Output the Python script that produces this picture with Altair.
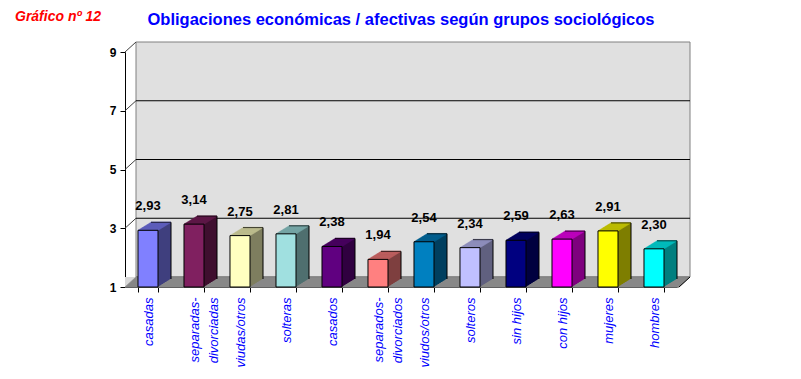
import altair as alt
import pandas as pd

# ---- data ----
categories = ["casadas", "separadas-|divorciadas", "viudas/otros", "solteras", "casados",
              "separados-|divorciados", "viudos/otros", "solteros", "sin hijos", "con hijos",
              "mujeres", "hombres"]
values = [2.93, 3.14, 2.75, 2.81, 2.38, 1.94, 2.54, 2.34, 2.59, 2.63, 2.91, 2.30]
front_colors = ["#8080FF", "#802060", "#FFFFC0", "#A0E0E0", "#600080", "#FF8080",
                "#0080C0", "#C0C0FF", "#000080", "#FF00FF", "#FFFF00", "#00FFFF"]
y_ticks = [1, 3, 5, 7, 9]
grid_values = [3, 5, 7]
connector_values = [3, 5, 7, 9]
chart_number = "Gráfico nº 12"
title_text = "Obligaciones económicas / afectivas según grupos sociológicos"


def shade(hex_color, f):
    h = hex_color.lstrip("#")
    r, g, b = (int(h[i:i + 2], 16) for i in (0, 2, 4))
    return "#%02X%02X%02X" % (int(r * f), int(g * f), int(b * f))


df = pd.DataFrame({
    "cat": categories,
    "val": values,
    "front": front_colors,
    "side": [shade(c, 0.5) for c in front_colors],
    "top": [shade(c, 0.75) for c in front_colors],
    "label": [f"{v:.2f}".replace(".", ",") for v in values],
})
grid_df = pd.DataFrame({"g": grid_values})
conn_df = pd.DataFrame({"g": connector_values})
one_df = pd.DataFrame({"g": [1]})

W, H = 552, 235
WALL_DX, WALL_DY = 11, -10
BAR_DX, BAR_DY = 13, -8
N = 13

yscale = alt.Scale(domain=[1, 9], zero=False, nice=False)
x_enc = alt.X("cat:N", sort=categories, title=None,
              scale=alt.Scale(paddingInner=0.565, paddingOuter=0.2825),
              axis=alt.Axis(labelExpr="split(datum.label, '|')"))
y_enc = alt.Y("val:Q", scale=yscale, title=None, axis=alt.Axis(values=y_ticks))
y2_base = alt.Y2Datum(1)

wall = alt.Chart(one_df).mark_rect(fill="#E0E0E0", stroke="#808080", strokeWidth=1,
                                   yOffset=WALL_DY, y2Offset=WALL_DY).encode(
    x=alt.value(WALL_DX), x2=alt.value(W + WALL_DX + 2),
    y=alt.YDatum(9, scale=yscale, title=None), y2=alt.Y2Datum(1))

grid = alt.Chart(grid_df).mark_rule(color="black", strokeWidth=1, yOffset=WALL_DY).encode(
    x=alt.value(WALL_DX), x2=alt.value(W + WALL_DX + 2),
    y=alt.Y("g:Q", scale=yscale, title=None))

conn = alt.Chart(conn_df).mark_rule(color="#404040", strokeWidth=1, y2Offset=WALL_DY).encode(
    x=alt.value(0), x2=alt.value(WALL_DX),
    y=alt.Y("g:Q", scale=yscale, title=None), y2=alt.Y2("g:Q"))

# light corner under the left side wall
corner = alt.Chart(one_df).mark_rect(fill="#D8D8D8", yOffset=WALL_DY).encode(
    x=alt.value(0), x2=alt.value(WALL_DX),
    y=alt.Y("g:Q", scale=yscale, title=None), y2=alt.Y2("g:Q"))

layers = [wall, grid, conn, corner]

# floor as a parallelogram built from slanted strips
for k in range(0, 11):
    sx = k * WALL_DX / 10
    layers.append(alt.Chart(one_df).mark_rule(color="#808080", strokeWidth=1.3, yOffset=-k).encode(
        x=alt.value(sx), x2=alt.value(W + 2 + sx),
        y=alt.Y("g:Q", scale=yscale, title=None)))
layers.append(alt.Chart(one_df).mark_rule(color="black", strokeWidth=1, y2Offset=WALL_DY).encode(
    x=alt.value(W + 2), x2=alt.value(W + 2 + WALL_DX),
    y=alt.Y("g:Q", scale=yscale, title=None), y2=alt.Y2("g:Q")))

# extrusion (side faces)
for k in range(N, 0, -1):
    dx = k * BAR_DX / N
    dy = k * BAR_DY / N
    layers.append(alt.Chart(df).mark_bar(xOffset=dx, yOffset=dy, y2Offset=dy).encode(
        x=x_enc, y=y_enc, y2=y2_base, color=alt.Color("side:N", scale=None)))

# top faces
for k in range(0, N + 1):
    dx = k * BAR_DX / N
    dy = k * BAR_DY / N
    layers.append(alt.Chart(df).mark_tick(xOffset=dx, yOffset=dy, thickness=1.6, size=20).encode(
        x=x_enc, y=y_enc, color=alt.Color("top:N", scale=None)))

# back edges
layers.append(alt.Chart(df).mark_tick(xOffset=BAR_DX, yOffset=BAR_DY, thickness=1, size=20,
                                      color="black").encode(x=x_enc, y=y_enc))
layers.append(alt.Chart(df).mark_rule(color="black", strokeWidth=1, xOffset=10 + BAR_DX,
                                      yOffset=BAR_DY, y2Offset=BAR_DY).encode(
    x=x_enc, y=y_enc, y2=y2_base))

# front faces
layers.append(alt.Chart(df).mark_bar(stroke="black", strokeWidth=1).encode(
    x=x_enc, y=y_enc, y2=y2_base, color=alt.Color("front:N", scale=None)))

# value labels
layers.append(alt.Chart(df).mark_text(dy=-20, dx=0, baseline="alphabetic", font="Liberation Sans",
                                      fontSize=13, fontWeight="bold", color="black").encode(
    x=x_enc, y=y_enc, text="label:N"))

# titles
layers.append(alt.Chart(pd.DataFrame({"t": [chart_number]})).mark_text(
    align="left", baseline="alphabetic", font="Liberation Sans", fontSize=14,
    fontStyle="italic", fontWeight="bold", color="#FF0000").encode(
    x=alt.value(-110), y=alt.value(-31), text="t:N"))
layers.append(alt.Chart(pd.DataFrame({"t": [title_text]})).mark_text(
    align="center", baseline="alphabetic", font="Liberation Sans", fontSize=16.5,
    fontWeight="bold", color="#0000FF").encode(
    x=alt.value(276), y=alt.value(-27), text="t:N"))

chart = alt.layer(*layers).properties(
    width=W, height=H,
    autosize=alt.AutoSizeParams(type="none"),
    padding={"left": 117, "top": 44, "right": 116, "bottom": 84},
).configure_view(stroke=None).configure_axisX(
    labelAngle=270, labelAlign="right", labelBaseline="middle",
    labelFont="Liberation Sans", labelFontStyle="italic", labelFontSize=13,
    labelColor="#0000FF", labelLineHeight=19, labelPadding=5, labelOverlap=False,
    labelLimit=0, tickBand="extent", tickSize=5, tickColor="black", domainColor="black",
    grid=False,
).configure_axisY(
    labelFont="Liberation Sans", labelFontSize=12, labelFontWeight="bold", labelColor="black",
    tickSize=5, tickColor="black", domainColor="black", labelPadding=4, grid=False,
)

chart.save("out.html", embed_options={"renderer": "svg", "actions": False})
